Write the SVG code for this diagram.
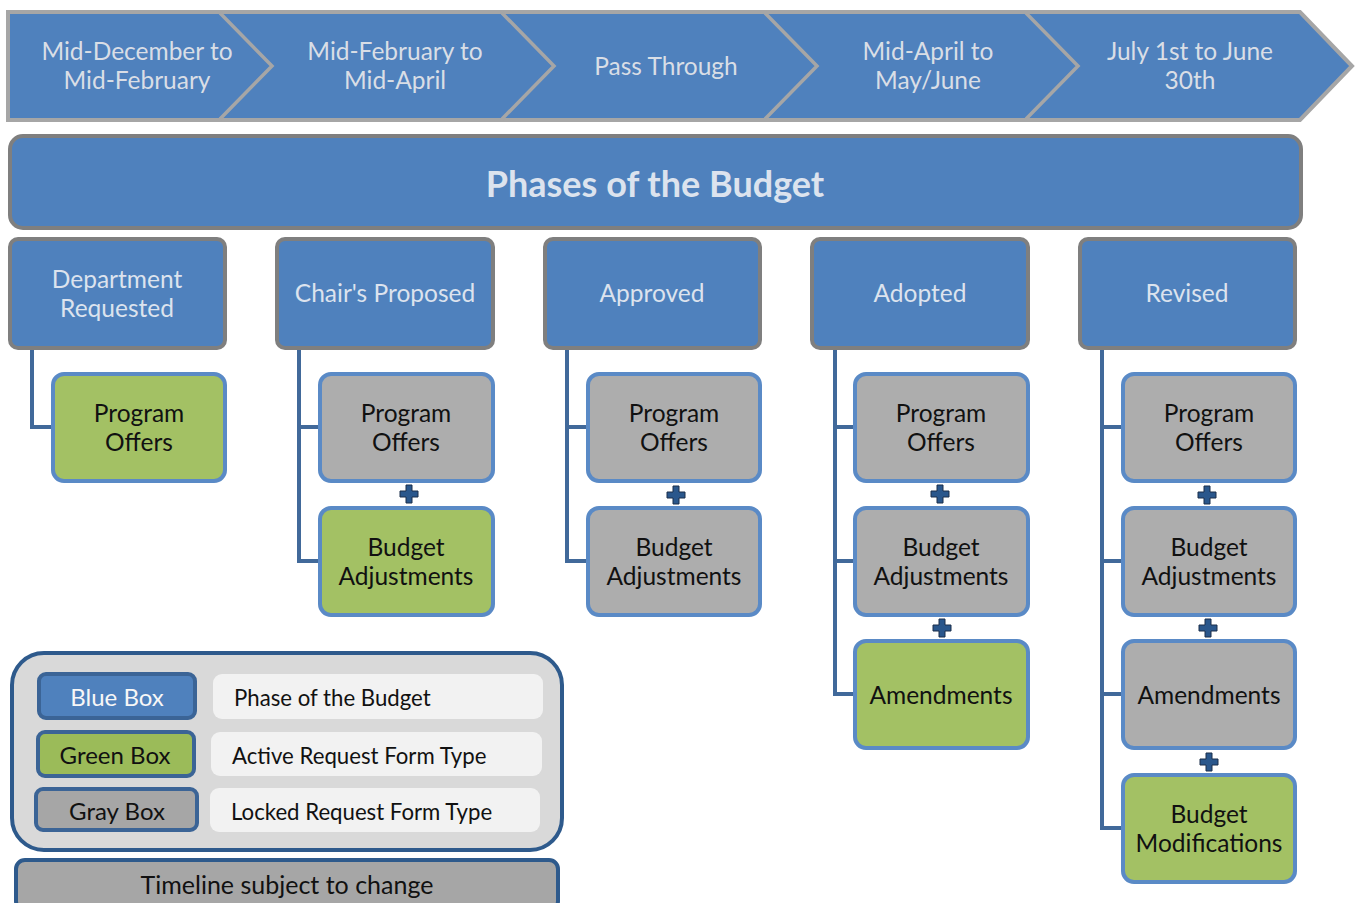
<svg xmlns="http://www.w3.org/2000/svg" width="1364" height="903" viewBox="0 0 1364 903">
<style>
text{font-family:Lato,"Open Sans","Liberation Sans",sans-serif;text-anchor:middle;dominant-baseline:central}
.chev{fill:#4f81bd;stroke:#a6a6a6;stroke-width:4;stroke-linejoin:miter}
.div{fill:none;stroke:#a6a6a6;stroke-width:3.5}
.ct{font-size:24.5px;fill:#d9dee6}
.hdr{fill:#4f81bd;stroke:#7f7f7f;stroke-width:4}
.ht{font-size:36px;font-weight:bold;fill:#dce3ee}
.ph{fill:#4f81bd;stroke:#7f7f7f;stroke-width:4}
.pt{font-size:24.5px;fill:#dce3ee}
.g{fill:#a3c164;stroke:#5a8ac6;stroke-width:4}
.y{fill:#adadad;stroke:#5a8ac6;stroke-width:4}
.bt{font-size:24.5px;fill:#111}
.conn{fill:none;stroke:#41699a;stroke-width:4}
.plus{fill:#2a578c;stroke:#1b2f4a;stroke-width:1}
.lt{font-size:22.2px;fill:#111;text-anchor:start}
.lb{font-size:24px}
</style>
<g id="timeline">
<polygon class="chev" points="8,12 1300,12 1352,66 1300,120 8,120"/>
<polyline class="div" points="220,13 272,66 220,119"/>
<polyline class="div" points="502,13 554,66 502,119"/>
<polyline class="div" points="765,13 817,66 765,119"/>
<polyline class="div" points="1026,13 1078,66 1026,119"/>
<text class="ct" x="137" y="50">Mid-December to</text>
<text class="ct" x="137" y="79">Mid-February</text>
<text class="ct" x="395" y="50">Mid-February to</text>
<text class="ct" x="395" y="79">Mid-April</text>
<text class="ct" x="666" y="65">Pass Through</text>
<text class="ct" x="928" y="50">Mid-April to</text>
<text class="ct" x="928" y="79">May/June</text>
<text class="ct" x="1190" y="50">July 1st to June</text>
<text class="ct" x="1190" y="79">30th</text>
</g>
<g id="header">
<rect class="hdr" x="10" y="136" width="1291" height="92" rx="13"/>
<text class="ht" x="655" y="183">Phases of the Budget</text>
</g>
<g id="connectors">
<polyline class="conn" points="32,349 32,427 54,427"/>
<polyline class="conn" points="299,349 299,561 321,561"/>
<line class="conn" x1="299" y1="427" x2="321" y2="427"/>
<polyline class="conn" points="567,349 567,561 589,561"/>
<line class="conn" x1="567" y1="427" x2="589" y2="427"/>
<polyline class="conn" points="835,349 835,694 856,694"/>
<line class="conn" x1="835" y1="427" x2="856" y2="427"/>
<line class="conn" x1="835" y1="561" x2="856" y2="561"/>
<polyline class="conn" points="1102,349 1102,828 1124,828"/>
<line class="conn" x1="1102" y1="427" x2="1124" y2="427"/>
<line class="conn" x1="1102" y1="561" x2="1124" y2="561"/>
<line class="conn" x1="1102" y1="694" x2="1124" y2="694"/>
</g>
<g id="phase-dept">
<rect class="ph" x="10" y="239" width="215" height="109" rx="8"/>
<text class="pt" x="117" y="278">Department</text>
<text class="pt" x="117" y="307">Requested</text>
</g>
<g id="phase-chair">
<rect class="ph" x="277" y="239" width="216" height="109" rx="8"/>
<text class="pt" x="385" y="292">Chair's Proposed</text>
</g>
<g id="phase-approved">
<rect class="ph" x="545" y="239" width="215" height="109" rx="8"/>
<text class="pt" x="652" y="292">Approved</text>
</g>
<g id="phase-adopted">
<rect class="ph" x="812" y="239" width="216" height="109" rx="8"/>
<text class="pt" x="920" y="292">Adopted</text>
</g>
<g id="phase-revised">
<rect class="ph" x="1080" y="239" width="215" height="109" rx="8"/>
<text class="pt" x="1187" y="292">Revised</text>
</g>
<g id="c1-offers">
<rect class="g" x="53" y="374" width="172" height="107" rx="11"/>
<text class="bt" x="139" y="412">Program</text>
<text class="bt" x="139" y="441">Offers</text>
</g>
<g id="c2-offers">
<rect class="y" x="320" y="374" width="173" height="107" rx="11"/>
<text class="bt" x="406" y="412">Program</text>
<text class="bt" x="406" y="441">Offers</text>
</g>
<g id="c2-adj">
<rect class="g" x="320" y="508" width="173" height="107" rx="11"/>
<text class="bt" x="406" y="546">Budget</text>
<text class="bt" x="406" y="575">Adjustments</text>
</g>
<g id="c3-offers">
<rect class="y" x="588" y="374" width="172" height="107" rx="11"/>
<text class="bt" x="674" y="412">Program</text>
<text class="bt" x="674" y="441">Offers</text>
</g>
<g id="c3-adj">
<rect class="y" x="588" y="508" width="172" height="107" rx="11"/>
<text class="bt" x="674" y="546">Budget</text>
<text class="bt" x="674" y="575">Adjustments</text>
</g>
<g id="c4-offers">
<rect class="y" x="855" y="374" width="173" height="107" rx="11"/>
<text class="bt" x="941" y="412">Program</text>
<text class="bt" x="941" y="441">Offers</text>
</g>
<g id="c4-adj">
<rect class="y" x="855" y="508" width="173" height="107" rx="11"/>
<text class="bt" x="941" y="546">Budget</text>
<text class="bt" x="941" y="575">Adjustments</text>
</g>
<g id="c4-amend">
<rect class="g" x="855" y="641" width="173" height="107" rx="11"/>
<text class="bt" x="941" y="694">Amendments</text>
</g>
<g id="c5-offers">
<rect class="y" x="1123" y="374" width="172" height="107" rx="11"/>
<text class="bt" x="1209" y="412">Program</text>
<text class="bt" x="1209" y="441">Offers</text>
</g>
<g id="c5-adj">
<rect class="y" x="1123" y="508" width="172" height="107" rx="11"/>
<text class="bt" x="1209" y="546">Budget</text>
<text class="bt" x="1209" y="575">Adjustments</text>
</g>
<g id="c5-amend">
<rect class="y" x="1123" y="641" width="172" height="107" rx="11"/>
<text class="bt" x="1209" y="694">Amendments</text>
</g>
<g id="c5-mods">
<rect class="g" x="1123" y="775" width="172" height="107" rx="11"/>
<text class="bt" x="1209" y="813">Budget</text>
<text class="bt" x="1209" y="842">Modifications</text>
</g>
<defs>
<path id="plus" d="M-3,-9 H3 V-3 H9 V3 H3 V9 H-3 V3 H-9 V-3 H-3 Z"/>
</defs>
<g id="plus-signs">
<use href="#plus" class="plus" x="409" y="494"/>
<use href="#plus" class="plus" x="676" y="495"/>
<use href="#plus" class="plus" x="940" y="494"/>
<use href="#plus" class="plus" x="942" y="628"/>
<use href="#plus" class="plus" x="1207" y="495"/>
<use href="#plus" class="plus" x="1208" y="628"/>
<use href="#plus" class="plus" x="1209" y="762"/>
</g>
<g id="legend">
<rect x="12" y="653" width="550" height="197" rx="32" fill="#d9d9d9" stroke="#2e5a8c" stroke-width="4"/>
<rect x="39" y="674" width="156" height="44" rx="7" fill="#4f81bd" stroke="#3b6496" stroke-width="4"/>
<text class="lb" x="117" y="696" style="fill:#f7f7f7">Blue Box</text>
<rect x="38" y="732" width="156" height="44" rx="7" fill="#9bbb59" stroke="#3b6496" stroke-width="4"/>
<text class="lb" x="115" y="754" style="fill:#111">Green Box</text>
<rect x="36" y="789" width="161" height="41" rx="7" fill="#a6a6a6" stroke="#3b6496" stroke-width="4"/>
<text class="lb" x="117" y="810" style="fill:#111">Gray Box</text>
<rect x="213" y="674" width="330" height="45" rx="9" fill="#f2f2f2"/>
<text class="lt" x="234" y="697">Phase of the Budget</text>
<rect x="211" y="732" width="331" height="44" rx="9" fill="#f2f2f2"/>
<text class="lt" x="232" y="755">Active Request Form Type</text>
<rect x="210" y="788" width="330" height="44" rx="9" fill="#f2f2f2"/>
<text class="lt" x="231" y="811">Locked Request Form Type</text>
</g>
<g id="note">
<rect x="16" y="860" width="542" height="50" rx="9" fill="#a6a6a6" stroke="#2e5a8c" stroke-width="4"/>
<text x="287" y="884" style="font-size:25px;fill:#111">Timeline subject to change</text>
</g>
</svg>
